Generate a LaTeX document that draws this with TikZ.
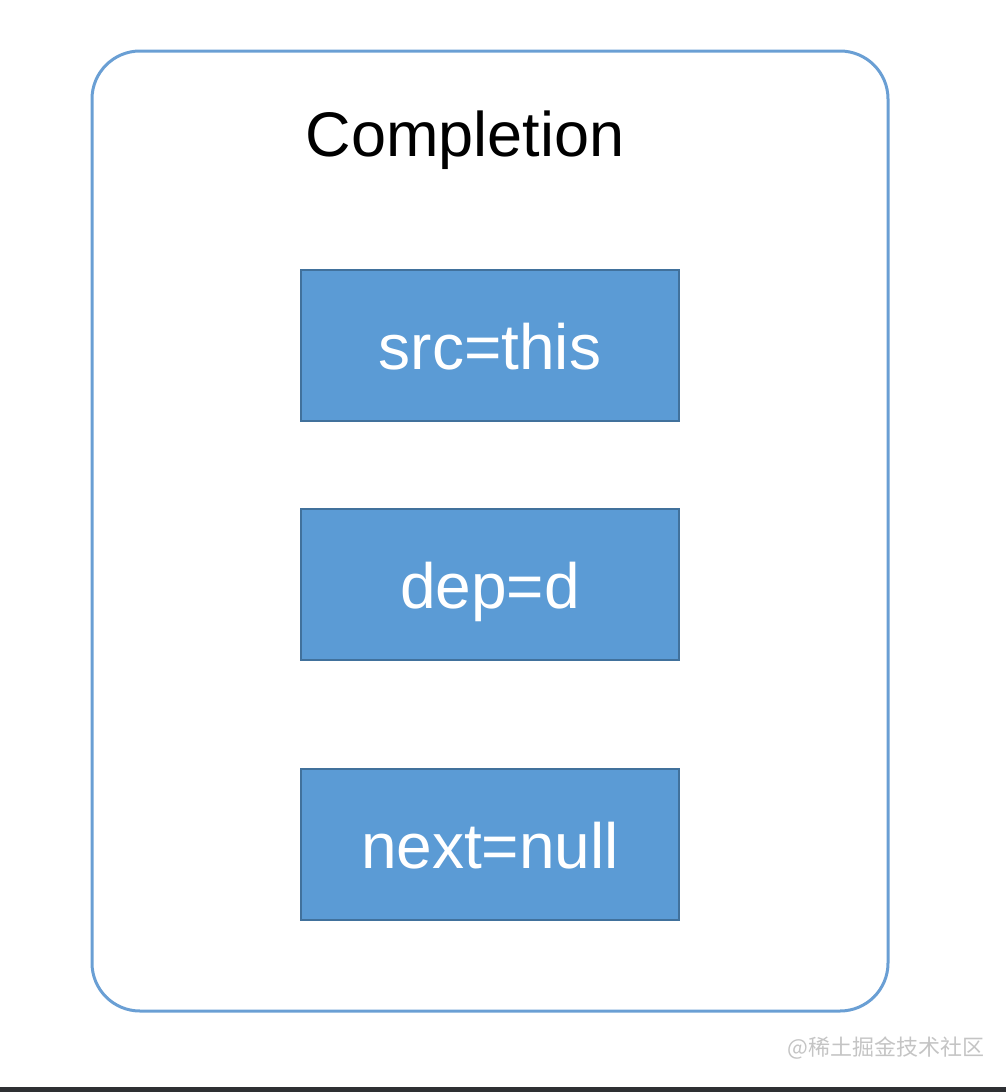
\documentclass[tikz,border=0pt]{standalone}
\usepackage{fontspec}
\setmainfont{Liberation Sans}
\newfontfamily\cjk{Noto Sans CJK SC}
\usepackage{xcolor}
\definecolor{fieldblue}{HTML}{5B9BD5}
\definecolor{fieldedge}{HTML}{41719C}
\definecolor{frameblue}{HTML}{6A9FD4}
\definecolor{markgray}{HTML}{C4C4C4}
\definecolor{bargray}{HTML}{2E3033}

\begin{document}
\begin{tikzpicture}[x=1pt, y=-1pt,
  field/.style={draw=fieldedge, fill=fieldblue, line width=2pt,
    minimum width=378pt, minimum height=151pt, inner sep=0pt,
    text=white, font=\fontsize{64}{64}\selectfont,
    text height=48pt, text depth=0pt}]
  % Fix the page size
  \useasboundingbox (0,0) rectangle (1006,1092);

  % Outer frame with rounded corners
  \draw[frameblue, line width=3pt, rounded corners=48pt] (92,51) rectangle (888,1011);
  \node[anchor=base, font=\fontsize{63}{63}\selectfont] (title) at (465,156) {Completion};

  % The three fields
  \node[field] (src) at (490,345.5) {src=this};
  \node[field] (dep) at (490,584) {dep=d};
  \node[field] (next) at (490,844) {next=null};

  % Watermark and bottom bar
  \node[anchor=base east, text=markgray, font=\cjk\fontsize{22}{22}\selectfont] (mark) at (988,1055) {@稀土掘金技术社区};
  \fill[bargray] (0,1087) rectangle (1006,1092);
\end{tikzpicture}
\end{document}
